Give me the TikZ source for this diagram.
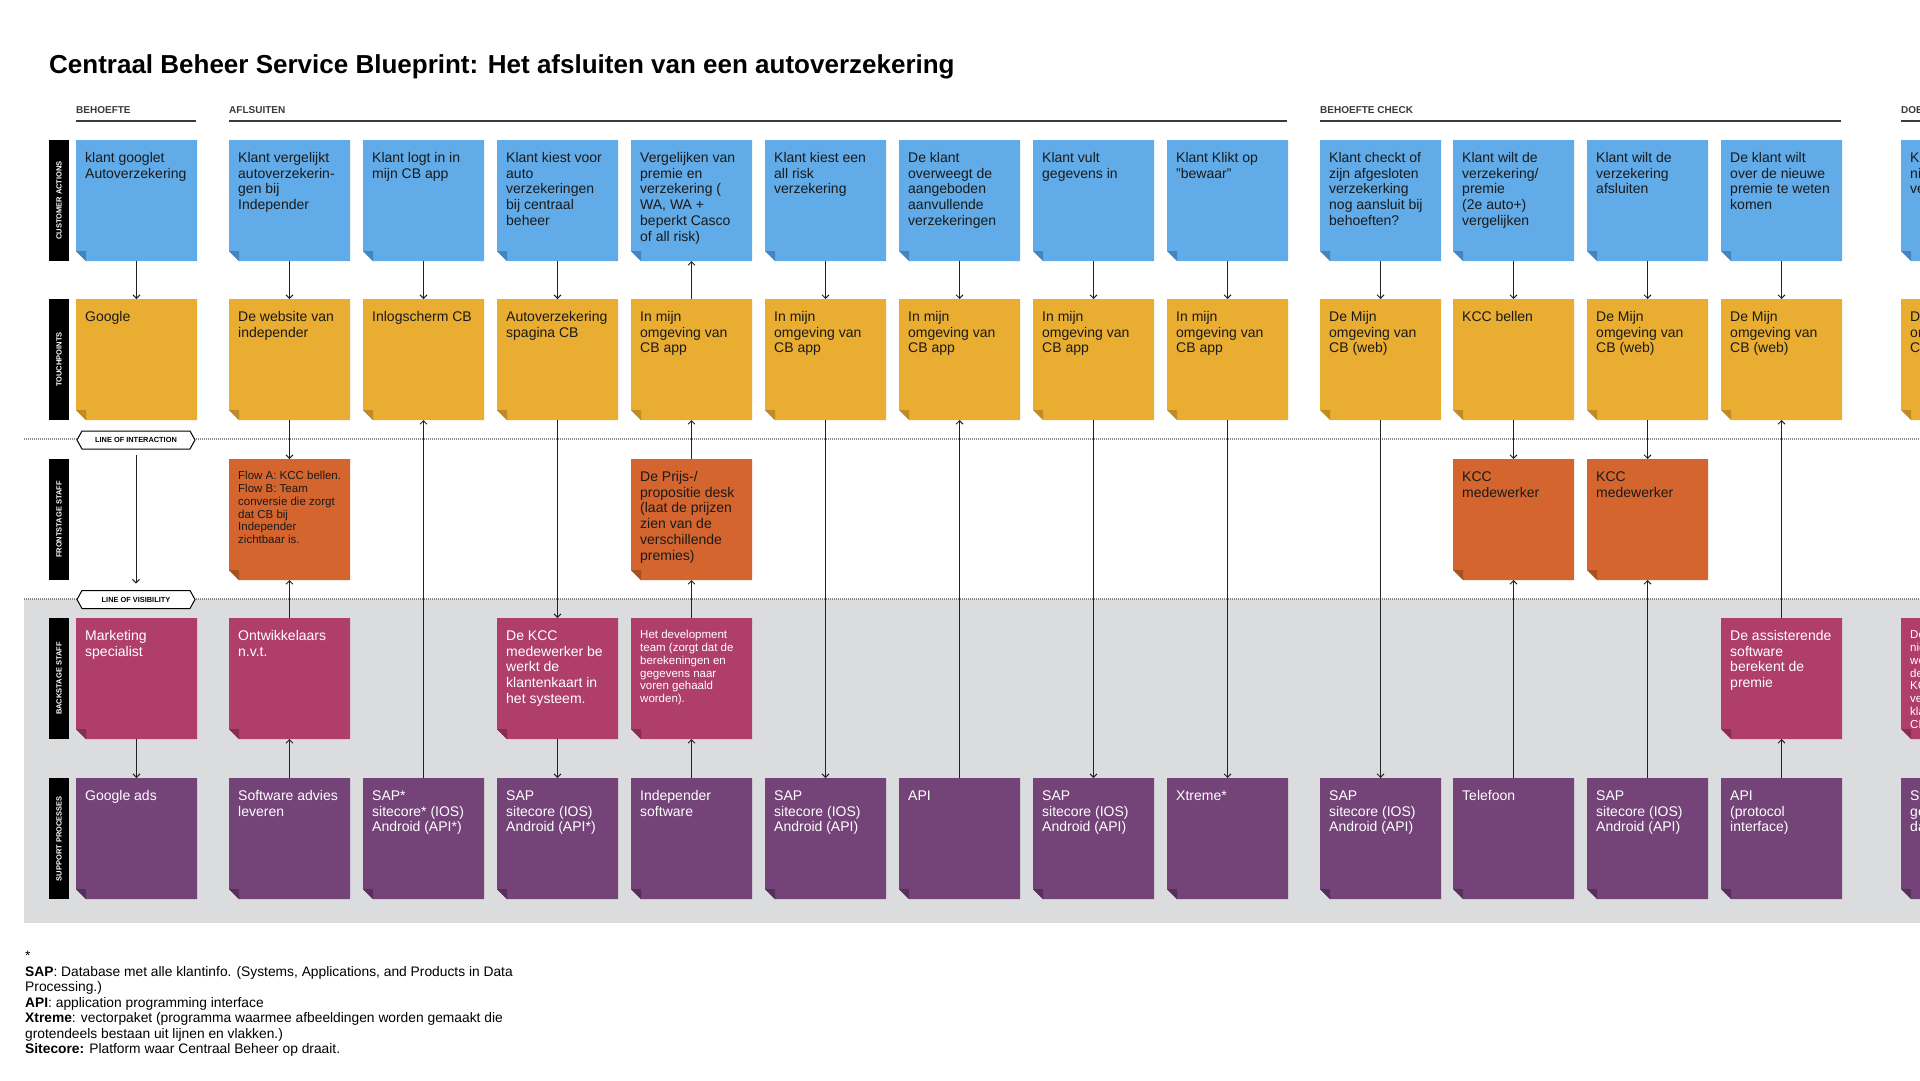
\documentclass[tikz,border=0pt]{standalone}
\usepackage{fontspec}
\setmainfont{Liberation Sans}
\usetikzlibrary{arrows.meta}

\definecolor{cbluemain}{HTML}{60ABE8}
\definecolor{cbluefold}{HTML}{4684BE}
\definecolor{cbluetext}{HTML}{1A1A1A}
\definecolor{cyelmain}{HTML}{E8AD31}
\definecolor{cyelfold}{HTML}{BF8B22}
\definecolor{cyeltext}{HTML}{1A1A1A}
\definecolor{corgmain}{HTML}{D5652E}
\definecolor{corgfold}{HTML}{A9501F}
\definecolor{corgtext}{HTML}{1A1A1A}
\definecolor{cpinkmain}{HTML}{AF3F6A}
\definecolor{cpinkfold}{HTML}{862D50}
\definecolor{cpinktext}{HTML}{FFFFFF}
\definecolor{cpurpmain}{HTML}{744478}
\definecolor{cpurpfold}{HTML}{55305A}
\definecolor{cpurptext}{HTML}{FFFFFF}
\definecolor{bggrey}{HTML}{DBDCDE}
\definecolor{dotgrey}{HTML}{8A8A8A}
\definecolor{linec}{HTML}{222222}
\definecolor{hdrc}{HTML}{3A3A3A}

\newcommand\bigtxt{\fontsize{14}{15.7}\selectfont}
\newcommand\smalltxt{\fontsize{11.5}{12.85}\selectfont}

% name, x, y, kind, baseline offset, font, text
\newcommand\stickybase[7]{%
  \node[stickynode] (#1) at (#2+60.5,#3+60.5) {};
  \fill[#4main] (#1.north west) -- (#1.north east) -- (#1.south east)
     -- ([xshift=10pt]#1.south west) -- ([yshift=10pt]#1.south west) -- cycle;
  \fill[#4fold] ([yshift=10pt]#1.south west) -- ([xshift=10pt,yshift=10pt]#1.south west)
     -- ([xshift=10pt]#1.south west) -- cycle;
  \node[anchor=base west, inner sep=0pt, text=#4text]
     at ([xshift=9pt,yshift=-#5pt]#1.north west)
     {\parbox[t]{112pt}{\raggedright#6 #7}};
}
\newcommand\sticky[5]{\stickybase{#1}{#2}{#3}{#4}{22.5}{\bigtxt}{#5}}
\newcommand\stickys[5]{\stickybase{#1}{#2}{#3}{#4}{20.5}{\smalltxt}{#5}}

\tikzset{
  stickynode/.style={rectangle, inner sep=0pt, outer sep=0pt, minimum width=121pt, minimum height=121pt},
  conn/.style={draw=linec, line width=1pt, -{Straight Barb[length=3.5pt,width=7pt]}},
  rowlabel/.style={rectangle, fill=black, text=white, rotate=90, inner sep=0pt, outer sep=0pt,
     minimum width=121pt, minimum height=20pt, font=\bfseries\fontsize{7.5}{8}\selectfont},
  pillnode/.style={rectangle, inner sep=0pt, outer sep=0pt, minimum width=118pt, minimum height=18pt},
  pillshape/.style={draw=black, line width=1pt, fill=white},
  pilltext/.style={inner sep=0pt, font=\bfseries\fontsize{7.4}{8}\selectfont},
  hdr/.style={anchor=base west, inner sep=0pt, text=hdrc, font=\bfseries\fontsize{10}{12}\selectfont},
  hdrline/.style={draw=hdrc, line width=1.5pt},
  dotline/.style={draw=dotgrey, line width=1.2pt, dash pattern=on 1pt off 1pt},
}

\begin{document}
\begin{tikzpicture}[x=1pt,y=-1pt]
\useasboundingbox (0,0) rectangle (1920,1080);
\clip (0,0) rectangle (1920,1080);
\fill[white] (0,0) rectangle (1920,1080);

% background band and dotted lines
\fill[bggrey] (24,599) rectangle (1920,923);
\draw[dotline] (24,439) -- (1920,439);
\draw[dotline] (24,599) -- (1920,599);

% title
\node[anchor=base west, inner sep=0pt, text=black, font=\bfseries\fontsize{26}{30}\selectfont] (title) at (49,73)
  {Centraal Beheer Service Blueprint: Het afsluiten van een autoverzekering};

% section headers
\node[hdr] (h1) at (76,113) {BEHOEFTE};
\node[hdr] (h2) at (229,113) {AFLSUITEN};
\node[hdr] (h3) at (1320,113) {BEHOEFTE CHECK};
\node[hdr] (h4) at (1901,113) {DOE};
\draw[hdrline] (76,121) -- (196,121);
\draw[hdrline] (229,121) -- (1287,121);
\draw[hdrline] (1320,121) -- (1841,121);
\draw[hdrline] (1901,121) -- (1960,121);

% row labels
\node[rowlabel] (lca) at (59,200.5) {CUSTOMER ACTIONS};
\node[rowlabel] (ltp) at (59,359.5) {TOUCHPOINTS};
\node[rowlabel] (lfs) at (59,519.5) {FRONTSTAGE STAFF};
\node[rowlabel] (lbs) at (59,678.5) {BACKSTAGE STAFF};
\node[rowlabel] (lsp) at (59,838.5) {SUPPORT PROCESSES};

% line pills
\node[pillnode] (loi) at (136,440) {};
\filldraw[pillshape] ([xshift=5pt]loi.north west) -- ([xshift=-5pt]loi.north east) -- (loi.east)
  -- ([xshift=-5pt]loi.south east) -- ([xshift=5pt]loi.south west) -- (loi.west) -- cycle;
\node[pilltext] at (loi.center) {LINE OF INTERACTION};
\node[pillnode] (lov) at (136,599.5) {};
\filldraw[pillshape] ([xshift=5pt]lov.north west) -- ([xshift=-5pt]lov.north east) -- (lov.east)
  -- ([xshift=-5pt]lov.south east) -- ([xshift=5pt]lov.south west) -- (lov.west) -- cycle;
\node[pilltext] at (lov.center) {LINE OF VISIBILITY};

% ---------------- customer actions (y=140)
\sticky{ca0}{76}{140}{cblue}{klant googlet\\Autoverzekering}
\sticky{ca1}{229}{140}{cblue}{Klant vergelijkt\\autoverzekerin-\\gen bij\\Independer}
\sticky{ca2}{363}{140}{cblue}{Klant logt in in\\mijn CB app}
\sticky{ca3}{497}{140}{cblue}{Klant kiest voor\\auto\\verzekeringen\\bij centraal\\beheer}
\sticky{ca4}{631}{140}{cblue}{Vergelijken van\\premie en\\verzekering (\\WA, WA +\\beperkt Casco\\of all risk)}
\sticky{ca5}{765}{140}{cblue}{Klant kiest een\\all risk\\verzekering}
\sticky{ca6}{899}{140}{cblue}{De klant\\overweegt de\\aangeboden\\aanvullende\\verzekeringen}
\sticky{ca7}{1033}{140}{cblue}{Klant vult\\gegevens in}
\sticky{ca8}{1167}{140}{cblue}{Klant Klikt op\\"bewaar"}
\sticky{ca9}{1320}{140}{cblue}{Klant checkt of\\zijn afgesloten\\verzekerking\\nog aansluit bij\\behoeften?}
\sticky{ca10}{1453}{140}{cblue}{Klant wilt de\\verzekering/\\premie\\(2e auto+)\\vergelijken}
\sticky{ca11}{1587}{140}{cblue}{Klant wilt de\\verzekering\\afsluiten}
\sticky{ca12}{1721}{140}{cblue}{De klant wilt\\over de nieuwe\\premie te weten\\komen}
\sticky{ca13}{1901}{140}{cblue}{Kl\\ni\\ve}

% ---------------- touchpoints (y=299)
\sticky{tp0}{76}{299}{cyel}{Google}
\sticky{tp1}{229}{299}{cyel}{De website van\\independer}
\sticky{tp2}{363}{299}{cyel}{Inlogscherm CB}
\sticky{tp3}{497}{299}{cyel}{Autoverzekering\\spagina CB}
\sticky{tp4}{631}{299}{cyel}{In mijn\\omgeving van\\CB app}
\sticky{tp5}{765}{299}{cyel}{In mijn\\omgeving van\\CB app}
\sticky{tp6}{899}{299}{cyel}{In mijn\\omgeving van\\CB app}
\sticky{tp7}{1033}{299}{cyel}{In mijn\\omgeving van\\CB app}
\sticky{tp8}{1167}{299}{cyel}{In mijn\\omgeving van\\CB app}
\sticky{tp9}{1320}{299}{cyel}{De Mijn\\omgeving van\\CB (web)}
\sticky{tp10}{1453}{299}{cyel}{KCC bellen}
\sticky{tp11}{1587}{299}{cyel}{De Mijn\\omgeving van\\CB (web)}
\sticky{tp12}{1721}{299}{cyel}{De Mijn\\omgeving van\\CB (web)}
\sticky{tp13}{1901}{299}{cyel}{De\\om\\CB}

% ---------------- frontstage (y=459)
\stickys{fs1}{229}{459}{corg}{Flow A: KCC bellen.\\Flow B: Team\\conversie die zorgt\\dat CB bij\\Independer\\zichtbaar is.}
\sticky{fs4}{631}{459}{corg}{De Prijs-/\\propositie desk\\(laat de prijzen\\zien van de\\verschillende\\premies)}
\sticky{fs10}{1453}{459}{corg}{KCC\\medewerker}
\sticky{fs11}{1587}{459}{corg}{KCC\\medewerker}

% ---------------- backstage (y=618)
\sticky{bs0}{76}{618}{cpink}{Marketing\\specialist}
\sticky{bs1}{229}{618}{cpink}{Ontwikkelaars\\n.v.t.}
\sticky{bs3}{497}{618}{cpink}{De KCC\\medewerker be\\werkt de\\klantenkaart in\\het systeem.}
\stickys{bs4}{631}{618}{cpink}{Het development\\team (zorgt dat de\\berekeningen en\\gegevens naar\\voren gehaald\\worden).}
\sticky{bs12}{1721}{618}{cpink}{De assisterende\\software\\berekent de\\premie}
\stickys{bs13}{1901}{618}{cpink}{De\\nie\\wo\\de\\KC\\ve\\kla\\CP}

% ---------------- support (y=778)
\sticky{sp0}{76}{778}{cpurp}{Google ads}
\sticky{sp1}{229}{778}{cpurp}{Software advies\\leveren}
\sticky{sp2}{363}{778}{cpurp}{SAP*\\sitecore* (IOS)\\Android (API*)}
\sticky{sp3}{497}{778}{cpurp}{SAP\\sitecore (IOS)\\Android (API*)}
\sticky{sp4}{631}{778}{cpurp}{Independer\\software}
\sticky{sp5}{765}{778}{cpurp}{SAP\\sitecore (IOS)\\Android (API)}
\sticky{sp6}{899}{778}{cpurp}{API}
\sticky{sp7}{1033}{778}{cpurp}{SAP\\sitecore (IOS)\\Android (API)}
\sticky{sp8}{1167}{778}{cpurp}{Xtreme*}
\sticky{sp9}{1320}{778}{cpurp}{SAP\\sitecore (IOS)\\Android (API)}
\sticky{sp10}{1453}{778}{cpurp}{Telefoon}
\sticky{sp11}{1587}{778}{cpurp}{SAP\\sitecore (IOS)\\Android (API)}
\sticky{sp12}{1721}{778}{cpurp}{API\\(protocol\\interface)}
\sticky{sp13}{1901}{778}{cpurp}{Sy\\ge\\da}

% ---------------- connectors
\draw[conn] (ca0.south) -- (tp0.north);
\draw[conn, shorten <=6pt, shorten >=7pt] (loi.south) -- (lov.north);
\draw[conn] (bs0.south) -- (sp0.north);

\draw[conn] (ca1.south) -- (tp1.north);
\draw[conn] (tp1.south) -- (fs1.north);
\draw[conn] (bs1.north) -- (fs1.south);
\draw[conn] (sp1.north) -- (bs1.south);

\draw[conn] (ca2.south) -- (tp2.north);
\draw[conn] (sp2.north) -- (tp2.south);

\draw[conn] (ca3.south) -- (tp3.north);
\draw[conn] (tp3.south) -- (bs3.north);
\draw[conn] (bs3.south) -- (sp3.north);

\draw[conn] (tp4.north) -- (ca4.south);
\draw[conn] (fs4.north) -- (tp4.south);
\draw[conn] (bs4.north) -- (fs4.south);
\draw[conn] (sp4.north) -- (bs4.south);

\draw[conn] (ca5.south) -- (tp5.north);
\draw[conn] (tp5.south) -- (sp5.north);

\draw[conn] (ca6.south) -- (tp6.north);
\draw[conn] (sp6.north) -- (tp6.south);

\draw[conn] (ca7.south) -- (tp7.north);
\draw[conn] (tp7.south) -- (sp7.north);

\draw[conn] (ca8.south) -- (tp8.north);
\draw[conn] (tp8.south) -- (sp8.north);

\draw[conn] (ca9.south) -- (tp9.north);
\draw[conn] (tp9.south) -- (sp9.north);

\draw[conn] (ca10.south) -- (tp10.north);
\draw[conn] (tp10.south) -- (fs10.north);
\draw[conn] (sp10.north) -- (fs10.south);

\draw[conn] (ca11.south) -- (tp11.north);
\draw[conn] (tp11.south) -- (fs11.north);
\draw[conn] (sp11.north) -- (fs11.south);

\draw[conn] (ca12.south) -- (tp12.north);
\draw[conn] (bs12.north) -- (tp12.south);
\draw[conn] (sp12.north) -- (bs12.south);

% footnote
\node[anchor=base west, inner sep=0pt, text=black] (foot) at (25,960.5)
 {\parbox[t]{600pt}{\raggedright\fontsize{13.8}{15.5}\selectfont
  *\\
  \textbf{SAP}: Database met alle klantinfo. (Systems, Applications, and Products in Data\\
  Processing.)\\
  \textbf{API}: application programming interface\\
  \textbf{Xtreme}: vectorpaket (programma waarmee afbeeldingen worden gemaakt die\\
  grotendeels bestaan uit lijnen en vlakken.)\\
  \textbf{Sitecore:} Platform waar Centraal Beheer op draait.}};
\end{tikzpicture}
\end{document}
